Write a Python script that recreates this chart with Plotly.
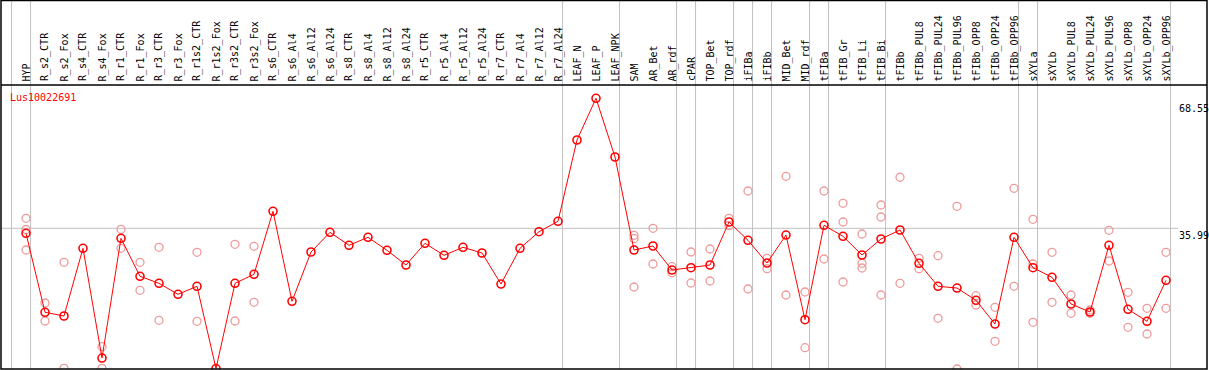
import plotly.graph_objects as go

# ---------------- data ----------------
categories = [
    "HYP", "R_s2_CTR", "R_s2_Fox", "R_s4_CTR", "R_s4_Fox", "R_r1_CTR", "R_r1_Fox",
    "R_r3_CTR", "R_r3_Fox", "R_r1s2_CTR", "R_r1s2_Fox", "R_r3s2_CTR", "R_r3s2_Fox",
    "R_s6_CTR", "R_s6_Al4", "R_s6_Al12", "R_s6_Al24", "R_s8_CTR", "R_s8_Al4",
    "R_s8_Al12", "R_s8_Al24", "R_r5_CTR", "R_r5_Al4", "R_r5_Al12", "R_r5_Al24",
    "R_r7_CTR", "R_r7_Al4", "R_r7_Al12", "R_r7_Al24", "LEAF_N", "LEAF_P", "LEAF_NPK",
    "SAM", "AR_Bet", "AR_rdf", "cPAR", "TOP_Bet", "TOP_rdf", "iFIBa", "iFIBb",
    "MID_Bet", "MID_rdf", "tFIBa", "tFIB_Gr", "tFIB_Li", "tFIB_Bi", "tFIBb",
    "tFIBb_PUL8", "tFIBb_PUL24", "tFIBb_PUL96", "tFIBb_OPP8", "tFIBb_OPP24",
    "tFIBb_OPP96", "sXYLa", "sXYLb", "sXYLb_PUL8", "sXYLb_PUL24", "sXYLb_PUL96",
    "sXYLb_OPP8", "sXYLb_OPP24", "sXYLb_OPP96",
]

means = [
    34.72, 14.58, 13.64, 30.89, 2.93, 33.44, 23.76,
    21.97, 19.17, 21.21, 0.25, 21.97, 24.27,
    40.33, 17.38, 29.95, 34.97, 31.66, 33.70,
    30.38, 26.64, 32.17, 29.11, 31.15, 29.70,
    21.79, 30.89, 35.13, 37.78, 58.50, 69.13, 54.17,
    30.46, 31.48, 25.36, 25.95, 26.64, 37.60, 32.93, 27.15,
    34.28, 12.69, 36.76, 33.95, 29.19, 33.27, 35.56,
    27.07, 21.21, 20.77, 17.64, 11.60,
    33.70, 25.95, 23.50, 16.70, 14.66, 31.66,
    15.35, 12.29, 22.74,
]

replicates = [
    [38.54, 35.69, 30.46], [16.95, 12.36], [27.33, 0.31], [], [5.81, 0.31],
    [35.74, 30.89], [27.33, 20.19],
    [31.15, 12.54], [], [29.88, 12.29], [], [31.91, 12.36], [31.40, 17.13],
    [], [], [], [], [], [],
    [], [], [], [], [], [],
    [], [], [], [], [], [], [],
    [34.21, 33.34, 21.03], [35.99, 26.89], [26.20, 24.68], [29.95, 22.05],
    [30.72, 22.56], [38.54, 36.66], [45.50, 20.52], [28.35, 25.69],
    [49.25, 18.99], [19.76, 5.56], [45.50, 28.17], [42.37, 37.60, 22.30],
    [34.54, 27.07, 25.87], [41.93, 38.87, 18.99], [49.00, 21.97],
    [28.35, 25.69], [29.01, 13.05], [41.60, 0.13], [18.81, 16.44], [15.86, 7.19],
    [46.19, 21.21], [38.29, 26.89, 12.03], [29.88, 17.13], [18.99, 14.33],
    [15.17, 14.33], [35.48, 27.66],
    [19.68, 10.76], [15.60, 9.05], [29.88, 15.60],
]

group_ends = [
    None, "HYP", "R_r7_Al24", "LEAF_NPK", "AR_rdf", "cPAR", "TOP_rdf", "iFIBa",
    "iFIBb", "MID_rdf", "tFIBa", "tFIB_Bi", "tFIBb_OPP96", "sXYLa", "sXYLb_OPP96",
]

tick_values = [68.55, 35.99, 0]
tick_labels = ["68.55", "35.99", "0"]
gene_id = "Lus10022691"

# ---------------- layout constants ----------------
W, H = 1209, 370
ML, MR, MT, MB = 1, 2, 85, 1
PLOT_H = H - MT - MB
PLOT_W = W - ML - MR
X_RANGE = [-1.316, 62.158]
Y_RANGE = [0.13, 72.52]
FONT = "DejaVu Sans Mono"
RED = "#ff0000"
PINK = "#ef9a9a"
GRAY = "#c0c0c0"

fig = go.Figure()

rep_x = [i for i, reps in enumerate(replicates) for _ in reps]
rep_y = [v for reps in replicates for v in reps]
fig.add_trace(go.Scatter(
    x=rep_x, y=rep_y, mode="markers",
    marker=dict(symbol="circle-open", size=8, color=PINK, line=dict(width=1.3, color=PINK)),
    hoverinfo="skip", cliponaxis=True,
))
fig.add_trace(go.Scatter(
    x=list(range(len(categories))), y=means, mode="lines+markers",
    line=dict(color=RED, width=1),
    marker=dict(symbol="circle-open", size=8, color=RED, line=dict(width=1.6, color=RED)),
    text=categories, hovertemplate="%{text}: %{y}<extra></extra>", cliponaxis=True,
))

shapes = []
top_paper = 1 + (MT - 0.5) / PLOT_H
# group separators
for g in group_ends:
    idx = -1 if g is None else categories.index(g)
    shapes.append(dict(type="line", xref="x", yref="paper", x0=idx + 0.24, x1=idx + 0.24,
                       y0=0, y1=top_paper, line=dict(color=GRAY, width=1), layer="below"))
# horizontal grid line at the middle tick
shapes.append(dict(type="line", xref="paper", yref="y", x0=0, x1=(1178 - ML) / PLOT_W,
                   y0=tick_values[1], y1=tick_values[1], line=dict(color=GRAY, width=1),
                   layer="below"))
# frame
shapes.append(dict(type="rect", xref="paper", yref="paper", x0=0, x1=1, y0=0, y1=top_paper,
                   line=dict(color="black", width=1.5)))
shapes.append(dict(type="line", xref="paper", yref="paper", x0=0, x1=1, y0=1, y1=1,
                   line=dict(color="black", width=1.5)))

annotations = []
for i, c in enumerate(categories):
    annotations.append(dict(x=i, y=1 + 1.5 / PLOT_H, xref="x", yref="paper", text=c,
                            textangle=-90, showarrow=False, xanchor="center", yanchor="bottom",
                            font=dict(family=FONT, size=10, color="black")))
annotations.append(dict(x=(8 - ML) / PLOT_W, y=(H - MB - 97) / PLOT_H, xref="paper", yref="paper",
                        text=gene_id, showarrow=False, xanchor="left", yanchor="middle",
                        font=dict(family=FONT, size=10, color=RED)))
for v, t in zip(tick_values, tick_labels):
    annotations.append(dict(x=(1177 - ML) / PLOT_W, y=v, xref="paper", yref="y", text=t,
                            showarrow=False, xanchor="left",
                            yanchor="bottom" if v == 0 else "top",
                            font=dict(family=FONT, size=10, color="black")))

fig.update_layout(
    width=W, height=H,
    margin=dict(l=ML, r=MR, t=MT, b=MB, pad=0),
    paper_bgcolor="white", plot_bgcolor="white",
    showlegend=False,
    xaxis=dict(range=X_RANGE, showgrid=False, zeroline=False, showticklabels=False,
               ticks="", showline=False),
    yaxis=dict(range=Y_RANGE, showgrid=False, zeroline=False, showticklabels=False,
               ticks="", showline=False),
    shapes=shapes, annotations=annotations,
)

fig.write_html(
    "out.html",
    config={"displayModeBar": False},
    post_script="document.body.style.margin='0';document.body.style.overflow='hidden';",
)
